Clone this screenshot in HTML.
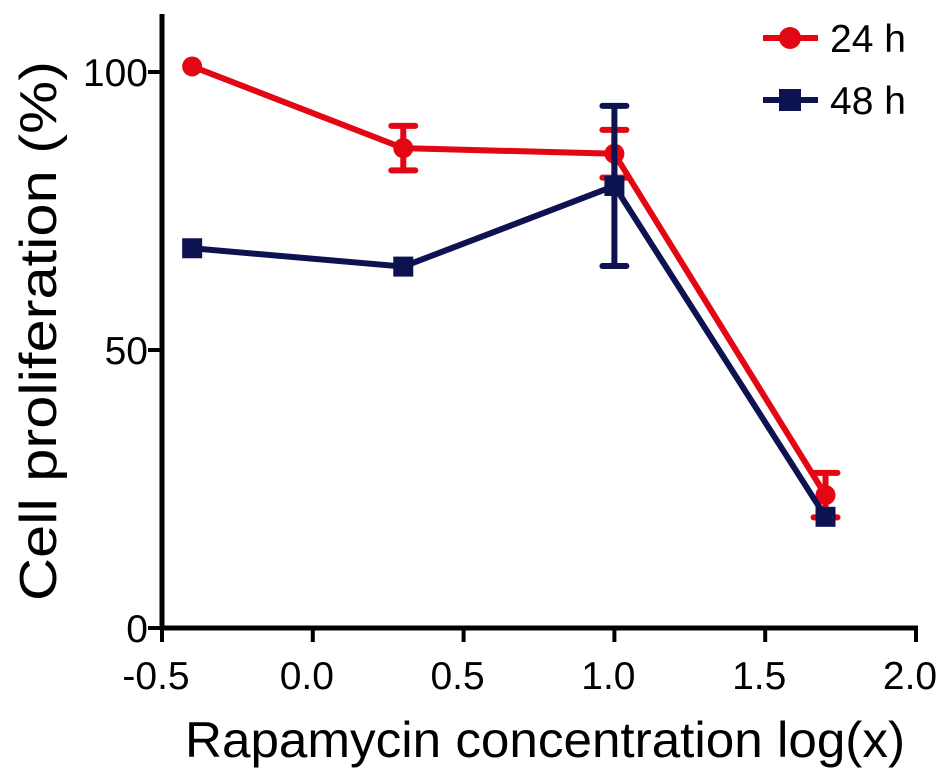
<!DOCTYPE html>
<html><head><meta charset="utf-8"><style>
html,body{margin:0;padding:0;background:#fff;}
svg{display:block;font-family:"Liberation Sans",Arial,sans-serif;}
</style></head><body>
<svg id="chart" width="945" height="774" viewBox="0 0 945 774" xmlns="http://www.w3.org/2000/svg"></svg>
<script>
const xTicks = [-0.5, 0.0, 0.5, 1.0, 1.5, 2.0];
const xTickLabels = ["-0.5", "0.0", "0.5", "1.0", "1.5", "2.0"];
const yTicks = [0, 50, 100];
const yTickLabels = ["0", "50", "100"];
const concentrations = [-0.4, 0.3, 1.0, 1.7];
const values24h = [101, 86.3, 85.3, 23.9];
const errors24h = [0, 4, 4.3, 4];
const values48h = [68.3, 65, 79.5, 20];
const errors48h = [0, 0, 14.4, 0];

const NS = "http://www.w3.org/2000/svg";
const svg = document.getElementById('chart');
const X0 = 162, XS = 301.6, Y0 = 628, YS = 5.56;
function xs(v){ return X0 + (v + 0.5) * XS; }
function ys(v){ return Y0 - v * YS; }
function mk(tag, attrs, parent){
  const e = document.createElementNS(NS, tag);
  for (const k in attrs) e.setAttribute(k, attrs[k]);
  (parent || svg).appendChild(e);
  return e;
}
let ax = mk('line', {x1:X0, y1:14, x2:X0, y2:Y0+2, stroke:'#000', 'stroke-width':5});


ax = mk('line', {x1:X0-2, y1:Y0, x2:xs(2.0)+2, y2:Y0, stroke:'#000', 'stroke-width':5});


xTicks.forEach((t, i) => {
  const tk = mk('line', {x1:xs(t), y1:Y0, x2:xs(t), y2:Y0+14, stroke:'#000', 'stroke-width':4});
  
  
  const tl = mk('text', {x:xs(t)-6, y:Y0+61, 'font-size':39, 'text-anchor':'middle', fill:'#000'});
  tl.textContent = xTickLabels[i];
  
  
});
yTicks.forEach((t, i) => {
  const tk = mk('line', {x1:X0-14, y1:ys(t), x2:X0, y2:ys(t), stroke:'#000', 'stroke-width':4});
  
  
  const tl = mk('text', {x:X0-14, y:ys(t)+14, 'font-size':39, 'text-anchor':'end', fill:'#000'});
  tl.textContent = yTickLabels[i];
  
  
});
let t = mk('text', {x:545, y:757, 'font-size':50, 'text-anchor':'middle', fill:'#000', textLength:720, lengthAdjust:'spacingAndGlyphs'});
t.textContent = 'Rapamycin concentration log(x)';


t = mk('text', {x:0, y:0, 'font-size':52, 'text-anchor':'middle', fill:'#000', textLength:540, lengthAdjust:'spacingAndGlyphs', transform:'translate(56,331) rotate(-90)'});
t.textContent = 'Cell proliferation (%)';



function series(vals, errs, color, shape, name){
  const g = mk('g', {});
  
  
  const pts = vals.map((v, i) => xs(concentrations[i]) + ',' + ys(v)).join(' ');
  const pl = mk('polyline', {points:pts, fill:'none', stroke:color, 'stroke-width':6}, g);
  
  
  vals.forEach((v, i) => {
    const cx = xs(concentrations[i]), cy = ys(v);
    if (errs[i] > 0) {
      const eb = mk('path', {d:`M${cx},${ys(v+errs[i])}V${ys(v-errs[i])}M${cx-12},${ys(v+errs[i])}h24M${cx-12},${ys(v-errs[i])}h24`, stroke:color, 'stroke-width':6, fill:'none', 'stroke-linecap':'round'}, g);
      
      
    }
    let m;
    if (shape === 'circle') m = mk('circle', {cx:cx, cy:cy, r:10, fill:color}, g);
    else m = mk('rect', {x:cx-10, y:cy-10, width:20, height:20, fill:color}, g);
    
    
  });
}
series(values24h, errors24h, '#e30613', 'circle', 'series-24h');
series(values48h, errors48h, '#0d1250', 'square', 'series-48h');

const lg = mk('g', {});


[[38,'#e30613','circle','24 h'],[100,'#0d1250','square','48 h']].forEach(([y,c,s,lab]) => {
  const e = mk('g', {}, lg);
  
  
  mk('line', {x1:763, y1:y, x2:818, y2:y, stroke:c, 'stroke-width':6}, e);
  if (s === 'circle') mk('circle', {cx:790, cy:y, r:11, fill:c}, e);
  else mk('rect', {x:779, y:y-11, width:22, height:22, fill:c}, e);
  const tx = mk('text', {x:830, y:y+14, 'font-size':39, fill:'#000'}, e);
  tx.textContent = lab;
});
</script>
</body></html>
